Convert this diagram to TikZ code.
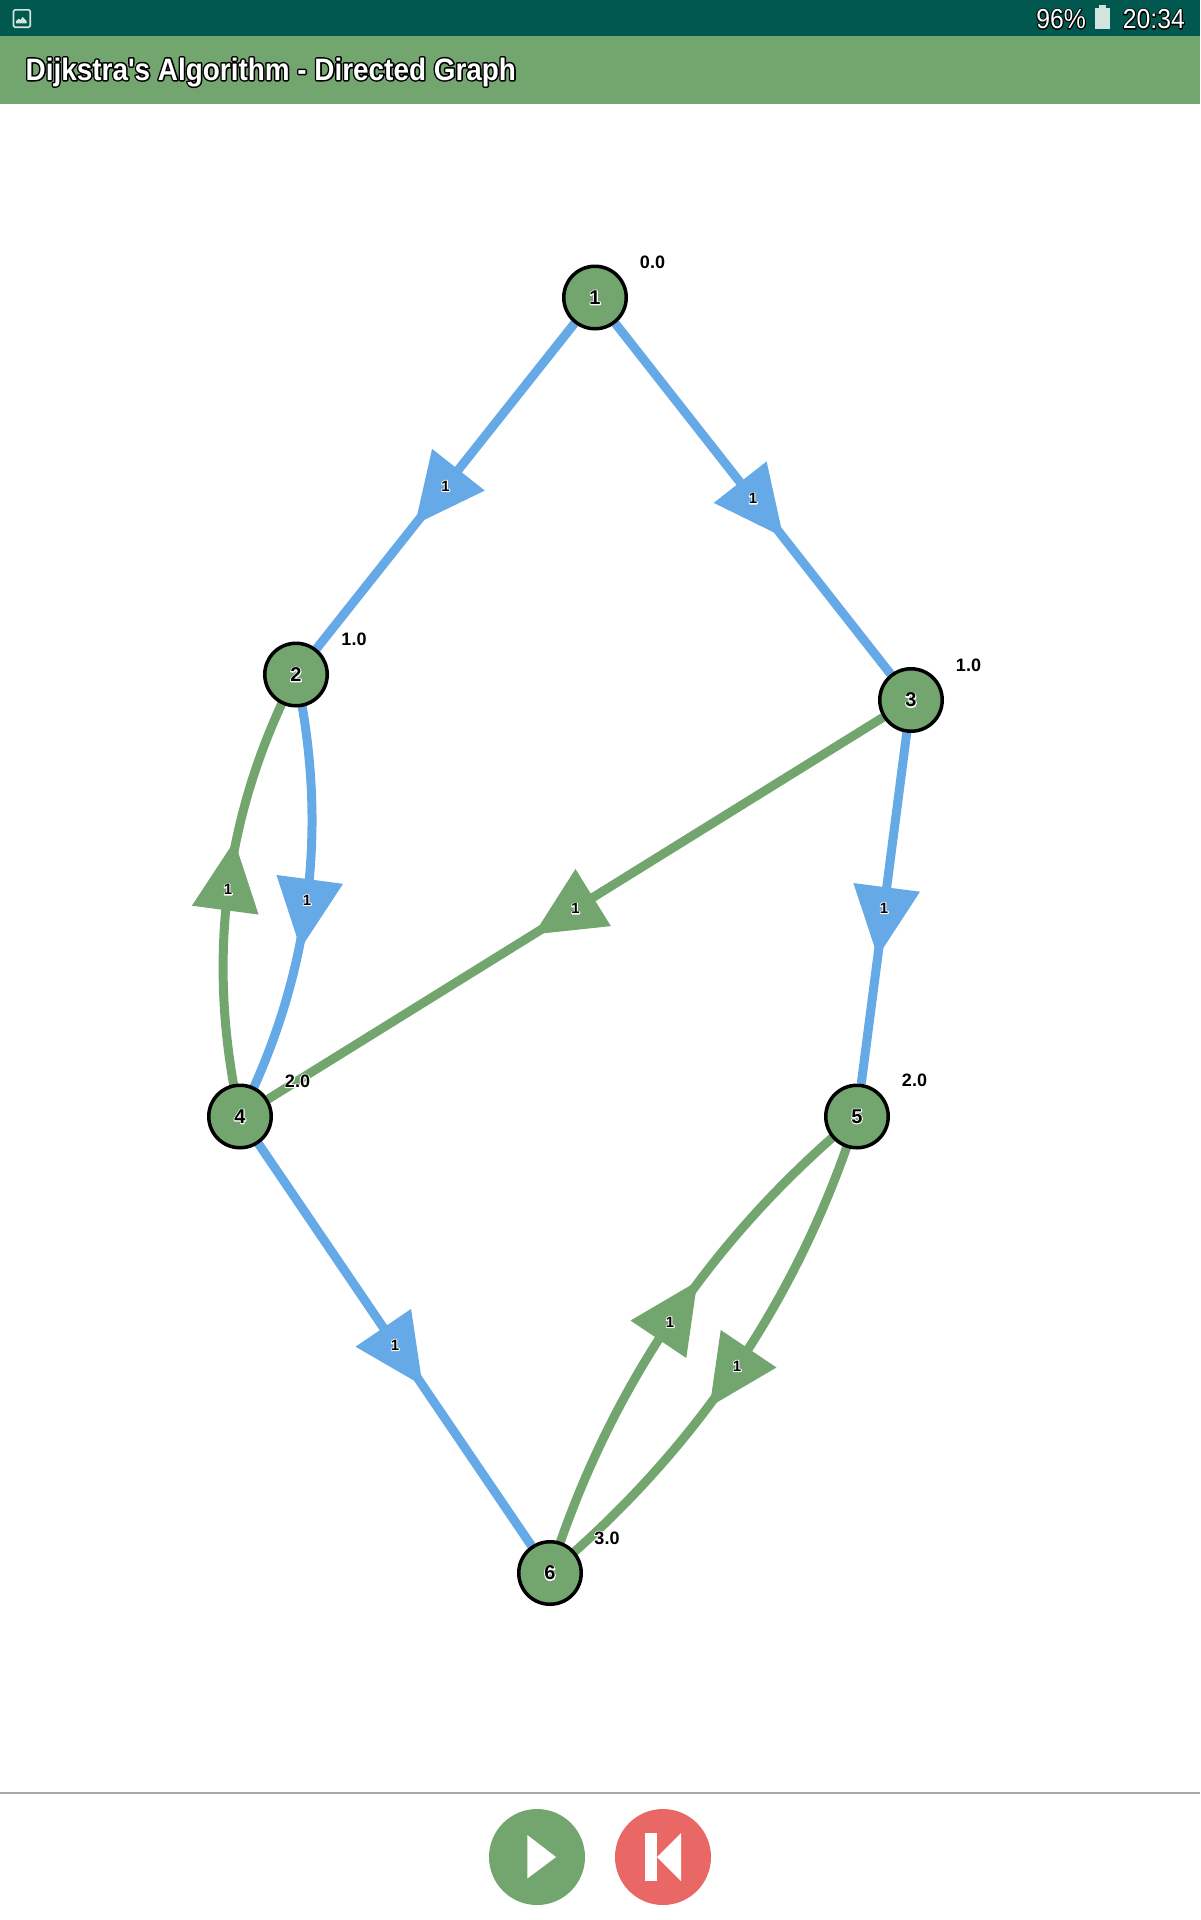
\documentclass[tikz,border=0pt]{standalone}
\usepackage{fontspec}
\setmainfont{Liberation Sans}
\newfontfamily\titlefont[FakeStretch=0.90]{Liberation Sans}
\newfontfamily\barfont[FakeStretch=0.90]{Liberation Sans}
\usetikzlibrary{calc}
\definecolor{appgreen}{HTML}{73A66F}
\definecolor{appteal}{HTML}{00584E}
\definecolor{appblue}{HTML}{65AAE7}
\definecolor{appred}{HTML}{E96764}
\definecolor{appgrey}{HTML}{A6A6A6}
\definecolor{iconlight}{HTML}{D3E4DF}
\pgfdeclarelayer{edges}
\pgfsetlayers{edges,main}
% text with an outline painted behind it: #1 stroke width, #2 stroke rgb, #3 fill colour, #4 text
\newcommand\outlined[4]{\rlap{\special{pdf:code q 1 Tr 1 j #1 w #2 RG}#4\special{pdf:code Q}}\textcolor{#3}{#4}}
\newcommand\halo[1]{\outlined{2}{1 1 1}{black}{#1}}
\newcommand\whitetext[1]{\outlined{2.2}{0 0 0}{white}{#1}}
\newcommand\titletext[1]{\outlined{3}{0 0 0}{white}{#1}}
\tikzset{
  graphnode/.style={circle,draw=black,fill=appgreen,line width=3.5pt,minimum size=62.5pt,inner sep=0pt,font=\fontsize{20}{22}\selectfont\bfseries},
  dist/.style={inner sep=0pt,font=\fontsize{18}{20}\selectfont\bfseries},
  weight/.style={inner sep=0pt,font=\fontsize{15}{16}\selectfont\bfseries},
  blueedge/.style={draw=appblue,line width=9pt},
  greenedge/.style={draw=appgreen,line width=9pt},
}
\newcommand\edgehead[5]{% name, x, y, angle, colour
  \fill[#5,shift={(#2,#3)},rotate=#4] (49,0) -- (-20.8,33.6) -- (-20.8,-33.6) -- cycle;
  \node[weight] (#1) at (#2,#3) {\halo{1}};
}
\newcommand\quadedge[4]{% style, from, control, to
  \draw[#1] (#2.center) .. controls ($(#2.center)!0.6667!(#3)$) and ($(#4.center)!0.6667!(#3)$) .. (#4.center);
}
\begin{document}
\begin{tikzpicture}[x=1pt,y=-1pt]
\useasboundingbox (0,0) rectangle (1200,1920);
% status bar and title bar
\fill[appteal] (0,0) rectangle (1200,36);
\fill[appgreen] (0,36) rectangle (1200,104);
\draw[iconlight,line width=1.6pt,rounded corners=1.5pt] (13.5,9.8) rectangle (30.2,27.2);
\fill[iconlight] (16,23.3) -- (16,21) -- (19,18.5) -- (20.5,20) -- (22.5,17) -- (26.7,21) -- (26.7,23.3) -- cycle;
\node[anchor=base east,inner sep=0pt,font=\barfont\fontsize{27.5}{30}\selectfont] (battery) at (1086,28.5) {\whitetext{96\%}};
\fill[iconlight] (1095,7.5) rectangle (1110,29);
\fill[iconlight] (1099,5) rectangle (1106,7.5);
\node[anchor=base east,inner sep=0pt,font=\barfont\fontsize{27.5}{30}\selectfont] (clock) at (1185,28.5) {\whitetext{20:34}};
\node[anchor=base west,inner sep=0pt,font=\titlefont\fontsize{31}{34}\selectfont\bfseries] (title) at (25.5,80) {\titletext{Dijkstra's Algorithm - Directed Graph}};
% graph nodes
\node[graphnode] (n1) at (595,297.5) {\halo{1}};
\node[graphnode] (n2) at (296,674.5) {\halo{2}};
\node[graphnode] (n3) at (911,700) {\halo{3}};
\node[graphnode] (n4) at (240,1116.5) {\halo{4}};
\node[graphnode] (n5) at (857,1116.5) {\halo{5}};
\node[graphnode] (n6) at (550,1573) {\halo{6}};
\coordinate (c24) at (346,905);
\coordinate (c42) at (188,883.5);
\coordinate (c56) at (770.5,1387.5);
\coordinate (c65) at (636.5,1299.5);
% connectors
\begin{pgfonlayer}{edges}
\draw[blueedge] (n1) -- (n2);
\draw[blueedge] (n1) -- (n3);
\draw[greenedge] (n3) -- (n4);
\draw[blueedge] (n3) -- (n5);
\draw[blueedge] (n4) -- (n6);
\quadedge{blueedge}{n2}{c24}{n4}
\quadedge{greenedge}{n4}{c42}{n2}
\quadedge{greenedge}{n5}{c56}{n6}
\quadedge{greenedge}{n6}{c65}{n5}
\end{pgfonlayer}
% arrow heads with weights
\edgehead{w12}{445.5}{486}{-128.4}{appblue}
\edgehead{w13}{753}{498.5}{-51.9}{appblue}
\edgehead{w34}{575.5}{908.5}{-148.2}{appgreen}
\edgehead{w35}{884}{908}{-97.4}{appblue}
\edgehead{w46}{395}{1345}{-55.8}{appblue}
\edgehead{w24}{307}{900}{-97.6}{appblue}
\edgehead{w42}{228}{889.5}{82.4}{appgreen}
\edgehead{w56}{737}{1366}{-123.9}{appgreen}
\edgehead{w65}{670}{1322}{56.1}{appgreen}
% distances
\node[dist] (d1) at (652.5,262) {\halo{0.0}};
\node[dist] (d2) at (354,639) {\halo{1.0}};
\node[dist] (d3) at (968.5,665) {\halo{1.0}};
\node[dist] (d4) at (297.5,1081) {\halo{2.0}};
\node[dist] (d5) at (914.5,1080) {\halo{2.0}};
\node[dist] (d6) at (607,1538) {\halo{3.0}};
% bottom bar
\fill[appgrey] (0,1792) rectangle (1200,1794);
\fill[appgreen] (537,1857) circle (48);
\fill[white] (527.3,1835) -- (556,1857) -- (527.3,1878.5) -- cycle;
\fill[appred] (663,1857) circle (48);
\fill[white] (645,1833) rectangle (657,1881);
\fill[white] (657,1857) -- (681,1833) -- (681,1881) -- cycle;
\end{tikzpicture}
\end{document}
